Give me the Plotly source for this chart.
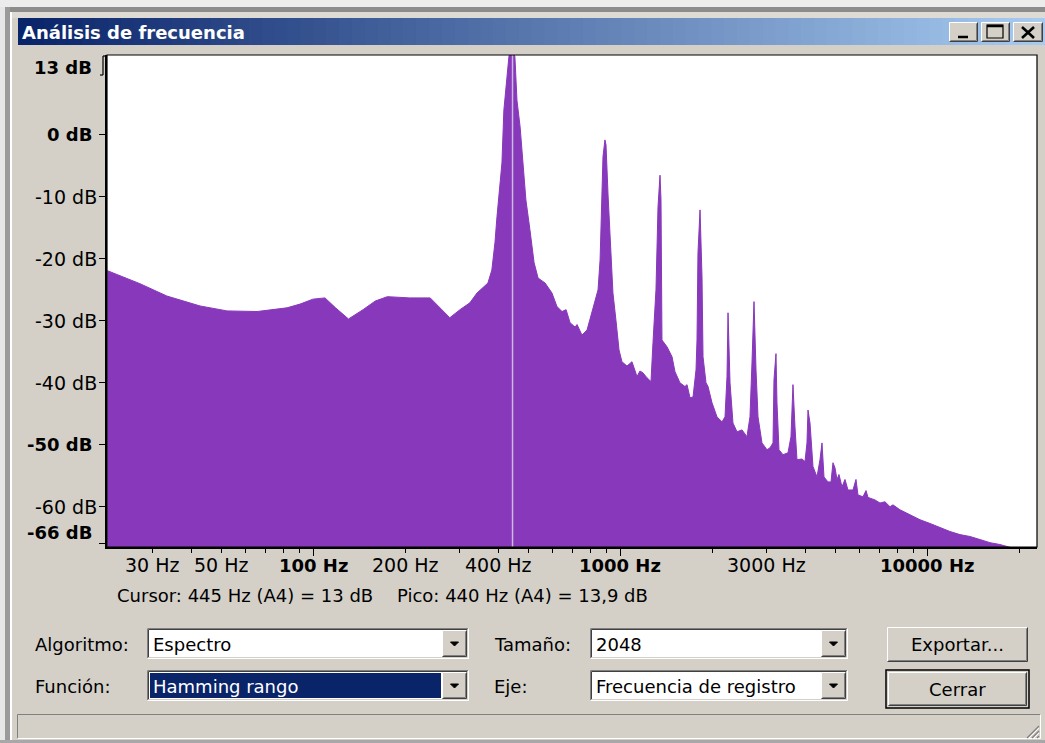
import math
import plotly.graph_objects as go

# ---------------- data ----------------
freq_hz = [
    21.3, 23.4, 27.2, 33.3, 42.7, 52.3, 65.5, 82.0, 90.4, 99.6,
    109, 118, 130, 145, 159, 174, 206, 240, 258, 278,
    300, 323, 341, 354, 370, 381, 390, 396, 402, 411,
    417, 427, 433, 440, 447, 453, 460, 471, 481, 492,
    507, 523, 539, 568, 598, 621, 645, 665, 685, 711,
    722, 749, 778, 802, 826, 845, 858, 870, 877, 890,
    897, 911, 931, 945, 967, 989, 1011, 1050, 1090, 1115,
    1132, 1157, 1184, 1220, 1257, 1276, 1305, 1325, 1345, 1355,
    1365, 1418, 1472, 1505, 1562, 1622, 1647, 1684, 1723, 1762,
    1775, 1788, 1816, 1843, 1857, 1899, 1928, 1986, 2062, 2141,
    2190, 2223, 2240, 2274, 2325, 2396, 2488, 2582, 2641, 2681,
    2722, 2763, 2805, 2890, 3001, 3069, 3139, 3162, 3210, 3234,
    3283, 3383, 3512, 3592, 3646, 3701, 3757, 3900, 3990, 4050,
    4081, 4143, 4236, 4366, 4465, 4533, 4601, 4741, 4849, 4922,
    4996, 5072, 5148, 5266, 5386, 5508, 5718, 5849, 5937, 6164,
    6306, 6401, 6745, 7003, 7270, 7548, 7719, 8137, 8770, 9454,
    10188, 10981, 11838, 12760, 13752, 14825, 15981, 17227, 18566, 20013,
    20776, 22050,
]
level_db = [
    -21.9, -22.7, -24.0, -26.0, -27.6, -28.4, -28.5, -27.9, -27.3, -26.5,
    -26.3, -27.9, -29.7, -28.2, -26.8, -26.1, -26.3, -26.3, -27.9, -29.5,
    -28.2, -27.1, -25.5, -24.7, -23.9, -21.8, -17.4, -13.2, -9.4, -4.5,
    4.0, 9.4, 12.6, 13.9, 13.5, 12.6, 5.6, 1.3, -5.2, -10.5,
    -15.3, -20.6, -23.1, -23.9, -25.5, -27.7, -28.5, -28.2, -30.3, -31.0,
    -30.6, -32.3, -31.5, -29.0, -26.6, -25.0, -20.2, -10.5, -3.5, -0.8,
    -1.6, -9.7, -19.4, -25.5, -30.0, -34.7, -36.6, -37.3, -36.6, -37.9,
    -39.0, -38.1, -38.4, -39.2, -39.8, -33.5, -25.0, -11.6, -6.5, -10.5,
    -33.1, -34.2, -35.8, -38.2, -40.0, -40.6, -40.3, -42.4, -42.3, -37.9,
    -33.1, -19.0, -12.1, -22.9, -35.8, -40.0, -40.6, -43.2, -45.5, -46.3,
    -45.5, -39.0, -28.7, -40.0, -46.5, -47.9, -47.6, -48.7, -45.5, -36.8,
    -26.9, -37.9, -45.5, -49.7, -50.8, -50.5, -49.7, -39.5, -35.3, -43.2,
    -50.8, -51.6, -51.3, -48.7, -40.3, -47.1, -52.4, -52.3, -52.7, -49.7,
    -44.4, -46.5, -53.5, -55.2, -52.4, -49.7, -55.2, -56.0, -56.0, -52.9,
    -53.7, -55.6, -54.8, -56.8, -55.6, -57.3, -57.3, -55.6, -58.1, -58.4,
    -57.4, -58.5, -58.9, -59.4, -59.2, -60.0, -59.7, -60.5, -61.3, -62.1,
    -62.7, -63.4, -64.0, -64.5, -64.8, -65.3, -65.8, -66.1, -66.5, -67.0,
    -67.5, -68.0,
]

x_tick_values = [30, 50, 100, 200, 400, 1000, 3000, 10000]
x_tick_labels = ["30 Hz", "50 Hz", "100 Hz", "200 Hz", "400 Hz", "1000 Hz", "3000 Hz", "10000 Hz"]
x_tick_bold = [False, False, True, False, False, True, False, True]
x_major_ticks = [100, 1000, 10000]
x_minor_ticks = [30, 40, 50, 60, 70, 80, 90, 200, 300, 400, 500, 600, 700, 800, 900,
                 2000, 3000, 4000, 5000, 6000, 7000, 8000, 9000, 20000]

y_tick_values = [13, 0, -10, -20, -30, -40, -50, -60, -66]
y_tick_labels = ["13 dB", "0 dB", "-10 dB", "-20 dB", "-30 dB", "-40 dB", "-50 dB", "-60 dB", "-66 dB"]
y_tick_bold = [True, True, False, False, False, False, True, False, True]

cursor_hz = 445
cursor_text = "Cursor: 445 Hz (A4) = 13 dB"
peak_text = "Pico: 440 Hz (A4) = 13,9 dB"
window_title = "Análisis de frecuencia"

# ---------------- geometry / style ----------------
W, H = 1045, 743
PL, PR, PT, PB = 107, 1037, 55, 547
X_RANGE = [1.3274, 4.3567]
Y_RANGE = [-66.5, 12.9]
FLOOR = -90
FONT = "DejaVu Sans"
FACE = "#d4d0c8"
PURPLE = "#8838bb"

shapes = []
annotations = []


def px(x):
    return (x - PL) / (PR - PL)


def py(y):
    return (PB - y) / (PB - PT)


def rect(x0, y0, x1, y1, fill, line=None, lw=1):
    shapes.append(dict(type="rect", xref="paper", yref="paper",
                       x0=px(x0), x1=px(x1), y0=py(y1), y1=py(y0),
                       fillcolor=fill,
                       line=dict(color=line if line else "rgba(0,0,0,0)", width=lw if line else 0),
                       layer="above"))


def seg(x0, y0, x1, y1, color, w=1):
    shapes.append(dict(type="line", xref="paper", yref="paper",
                       x0=px(x0), x1=px(x1), y0=py(y0), y1=py(y1),
                       line=dict(color=color, width=w), layer="above"))


def bevel(x0, y0, x1, y1, tl, br):
    seg(x0, y0, x1, y0, tl)
    seg(x0, y0, x0, y1, tl)
    seg(x0, y1, x1, y1, br)
    seg(x1, y0, x1, y1, br)


def raised(x0, y0, x1, y1):
    rect(x0, y0, x1, y1, FACE)
    bevel(x0 + 0.5, y0 + 0.5, x1 - 0.5, y1 - 0.5, "#ffffff", "#404040")
    bevel(x0 + 1.5, y0 + 1.5, x1 - 1.5, y1 - 1.5, FACE, "#808080")


def sunken(x0, y0, x1, y1, fill="#ffffff"):
    rect(x0, y0, x1, y1, fill)
    bevel(x0 + 0.5, y0 + 0.5, x1 - 0.5, y1 - 0.5, "#808080", "#ffffff")
    bevel(x0 + 1.5, y0 + 1.5, x1 - 1.5, y1 - 1.5, "#404040", FACE)


def tri_down(cx, cy, w=8, h=4):
    p = "M {},{} L {},{} L {},{} Z".format(px(cx - w / 2), py(cy - h / 2), px(cx + w / 2), py(cy - h / 2),
                                            px(cx), py(cy + h / 2))
    shapes.append(dict(type="path", xref="paper", yref="paper", path=p,
                       fillcolor="#000000", line=dict(color="#000000", width=1), layer="above"))


def label(x, y, s, size=18, color="#000000", anchor="left", bold=False):
    annotations.append(dict(xref="paper", yref="paper", x=px(x), y=py(y),
                            text="<b>%s</b>" % s if bold else s, showarrow=False,
                            xanchor=anchor, yanchor="middle", borderpad=0, borderwidth=0,
                            font=dict(family=FONT, size=size, color=color)))


def combo(x0, y0, x1, y1, text, selected=False):
    sunken(x0, y0, x1, y1)
    if selected:
        rect(x0 + 3, y0 + 3, x1 - 28, y1 - 3, "#0a246a")
    raised(x1 - 27, y0 + 2, x1 - 2, y1 - 2)
    tri_down(x1 - 14.5, (y0 + y1) / 2 + 0.5)
    label(x0 + 6, (y0 + y1) / 2 + 0.5, text, 18, "#ffffff" if selected else "#000000")


# ---------------- window chrome ----------------
rect(0, 0, W, 7, "#ececec")
rect(0, 7, W, 12, "#8c8c8c")
rect(0, 12, W, 18, "#dedbd5")
rect(0, 7, 5, H, "#e6e6e6")
rect(5, 7, 10, H, "#9a9a9a")
rect(10, 12, 12, H, "#ffffff")

# title bar gradient
c0, c1 = (10, 36, 106), (166, 202, 240)
n = 80
tx0, tx1 = 18, W
for i in range(n):
    t = i / (n - 1)
    col = "rgb(%d,%d,%d)" % tuple(round(a + (b - a) * t) for a, b in zip(c0, c1))
    xa = tx0 + (tx1 - tx0) * i / n
    xb = tx0 + (tx1 - tx0) * (i + 1) / n + 0.8
    rect(xa, 18, xb, 45, col)
label(22, 32, window_title, 18, "#ffffff", bold=True)

# caption buttons
for bx0, bx1 in [(949, 978), (981, 1010), (1013, 1043)]:
    raised(bx0, 22, bx1, 42)
seg(958, 37, 968, 37, "#000000", 2.5)
rect(987, 25, 1003, 38, "rgba(0,0,0,0)", "#000000", 1.2)
seg(987, 26, 1003, 26, "#000000", 2.5)
seg(1022, 27, 1034, 38, "#000000", 2.6)
seg(1034, 27, 1022, 38, "#000000", 2.6)

# plot frame (top / right) and 13 dB bracket
rect(PL, PT, PR, PB, "rgba(0,0,0,0)", "#000000", 1.2)
seg(103, 56, 107, 56, "#000000", 1.2)
seg(103, 56, 103, 75, "#000000", 1.2)
seg(100, 75, 103, 75, "#000000", 1.2)

# y tick labels (paper coordinates so the 13 dB label is not hidden)
for v, t, b in zip(y_tick_values, y_tick_labels, y_tick_bold):
    shift = 0
    if v == y_tick_values[0]:
        shift = -13.5
    elif v == y_tick_values[-1]:
        shift = 11
    yp = (v - Y_RANGE[0]) / (Y_RANGE[1] - Y_RANGE[0])
    annotations.append(dict(xref="paper", yref="paper", x=px(92 if b else 97), y=yp, yshift=shift,
                            text="<b>%s</b>" % t if b else t, showarrow=False,
                            xanchor="right", yanchor="middle", borderpad=0, borderwidth=0,
                            font=dict(family=FONT, size=18 if b else 19, color="#000000")))

# x tick labels
for v, t, b in zip(x_tick_values, x_tick_labels, x_tick_bold):
    xp = (math.log10(v) - X_RANGE[0]) / (X_RANGE[1] - X_RANGE[0])
    annotations.append(dict(xref="paper", yref="paper", x=xp, y=py(565),
                            text="<b>%s</b>" % t if b else t, showarrow=False,
                            xanchor="center", yanchor="middle", borderpad=0, borderwidth=0,
                            font=dict(family=FONT, size=18 if b else 19, color="#000000")))

# cursor / peak readout
label(117, 595, cursor_text, 18, "#000000")
label(397, 595, peak_text, 18, "#000000")

# controls
label(35, 644, "Algoritmo:", 18)
label(35, 686, "Función:", 18)
label(494, 644, "Tamaño:", 18)
label(494, 686, "Eje:", 18)
combo(147, 628, 469, 659, "Espectro")
combo(147, 670, 469, 701, "Hamming rango", selected=True)
combo(590, 628, 848, 659, "2048")
combo(590, 670, 848, 701, "Frecuencia de registro")
raised(887, 627, 1028, 662)
label(957.5, 644.5, "Exportar...", 18, anchor="center")
rect(886, 670, 1029, 708, "rgba(0,0,0,0)", "#000000", 1.5)
raised(888, 672, 1027, 706)
label(957.5, 689, "Cerrar", 18, anchor="center")

# status bar + size grip
rect(17, 714, 1041, 739, FACE)
bevel(17.5, 714.5, 1040.5, 738.5, "#808080", "#ffffff")
for k in range(3):
    o = 5 * k
    seg(1039, 726 + o, 1027 + o, 738, "#808080", 1.3)
    seg(1039, 728 + o, 1029 + o, 738, "#ffffff", 1)
rect(0, 740, W, H, "#a8a8a8")

# ---------------- traces ----------------
fig = go.Figure()
fig.add_trace(go.Scatter(
    x=freq_hz + [freq_hz[-1], freq_hz[0]],
    y=level_db + [FLOOR, FLOOR],
    mode="lines", fill="toself", fillcolor=PURPLE,
    line=dict(color=PURPLE, width=1), hoverinfo="skip", showlegend=False))
fig.add_trace(go.Scatter(
    x=[cursor_hz, cursor_hz], y=Y_RANGE, mode="lines",
    line=dict(color="#cbbadf", width=1.5), hoverinfo="skip", showlegend=False))

fig.update_layout(
    width=W, height=H, autosize=False,
    margin=dict(l=PL, r=W - PR, t=PT, b=H - PB, pad=0),
    paper_bgcolor=FACE, plot_bgcolor="#ffffff",
    font=dict(family=FONT, size=18, color="#000000"),
    shapes=shapes, annotations=annotations, showlegend=False,
    xaxis=dict(type="log", range=X_RANGE, showgrid=False, zeroline=False,
               showline=True, linecolor="#000000", linewidth=2,
               ticks="outside", tickmode="array", tickvals=x_major_ticks, ticklen=7,
               tickcolor="#000000", tickwidth=1, showticklabels=False,
               minor=dict(tickmode="array", tickvals=x_minor_ticks, ticks="outside",
                          ticklen=4, tickcolor="#000000", tickwidth=1, showgrid=False),
               fixedrange=True),
    yaxis=dict(range=Y_RANGE, showgrid=False, zeroline=False,
               showline=True, linecolor="#000000", linewidth=2,
               ticks="outside", tickmode="array", tickvals=y_tick_values[1:], ticklen=6,
               tickcolor="#000000", tickwidth=1, showticklabels=False, fixedrange=True),
)

fig.write_html("out.html", config={"displayModeBar": False})
